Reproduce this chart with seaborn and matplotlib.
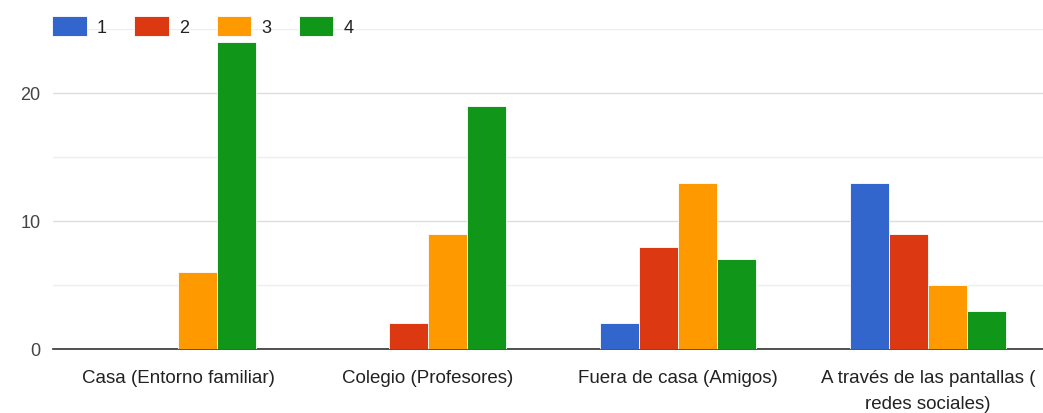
import matplotlib
matplotlib.use("Agg")
import matplotlib.pyplot as plt
import pandas as pd
import seaborn as sns

# data
categories = [
    "Casa (Entorno familiar)",
    "Colegio (Profesores)",
    "Fuera de casa (Amigos)",
    "A través de las pantallas (\nredes sociales)",
]
series = ["1", "2", "3", "4"]
values_1 = [0, 0, 2, 13]
values_2 = [0, 2, 8, 9]
values_3 = [6, 9, 13, 5]
values_4 = [24, 19, 7, 3]
colors = ["#3366cc", "#dc3912", "#ff9900", "#109618"]
y_ticks = [0, 10, 20]

rows = []
for s, vals in zip(series, [values_1, values_2, values_3, values_4]):
    for c, v in zip(categories, vals):
        rows.append({"categoria": c, "serie": s, "valor": v})
df = pd.DataFrame(rows)

sns.set_style("white")
plt.rcParams["font.family"] = ["Liberation Sans", "DejaVu Sans"]

fig = plt.figure(figsize=(10.43, 4.14), dpi=100)
ax = fig.add_axes([53 / 1043, 64 / 414, 1000 / 1043, 320 / 414])

sns.barplot(
    data=df, x="categoria", y="valor", hue="serie",
    palette=colors, width=0.625, gap=0, saturation=1,
    edgecolor="white", linewidth=0.6, ax=ax, zorder=3,
)

ax.set_ylim(0, 25)
ax.set_xlim(-0.5, 3.5)
ax.set_yticks(y_ticks)
ax.set_yticks([5, 15, 25], minor=True)
ax.grid(axis="y", which="major", color="#dddddd", linewidth=1, zorder=0)
ax.grid(axis="y", which="minor", color="#eeeeee", linewidth=1, zorder=0)
ax.set_axisbelow(True)
for side in ["top", "right", "left"]:
    ax.spines[side].set_visible(False)
ax.spines["bottom"].set_color("#333333")
ax.spines["bottom"].set_linewidth(1.2)
ax.tick_params(axis="both", length=0, labelsize=13, colors="#222222")
ax.tick_params(axis="y", pad=9, labelcolor="#444444")
ax.tick_params(axis="x", pad=14.5, labelsize=13.5)
for lbl in ax.get_xticklabels():
    lbl.set_linespacing(1.65)
ax.set_xlabel("")
ax.set_ylabel("")

leg = ax.legend(
    loc="upper left", bbox_to_anchor=(-17 / 1000, 1.09), ncol=4, frameon=False,
    handlelength=1.9, handleheight=1.3, handletextpad=0.55, columnspacing=1.55,
    fontsize=13,
)
for t in leg.get_texts():
    t.set_color("#222222")

fig.savefig("out.png", dpi=100)
